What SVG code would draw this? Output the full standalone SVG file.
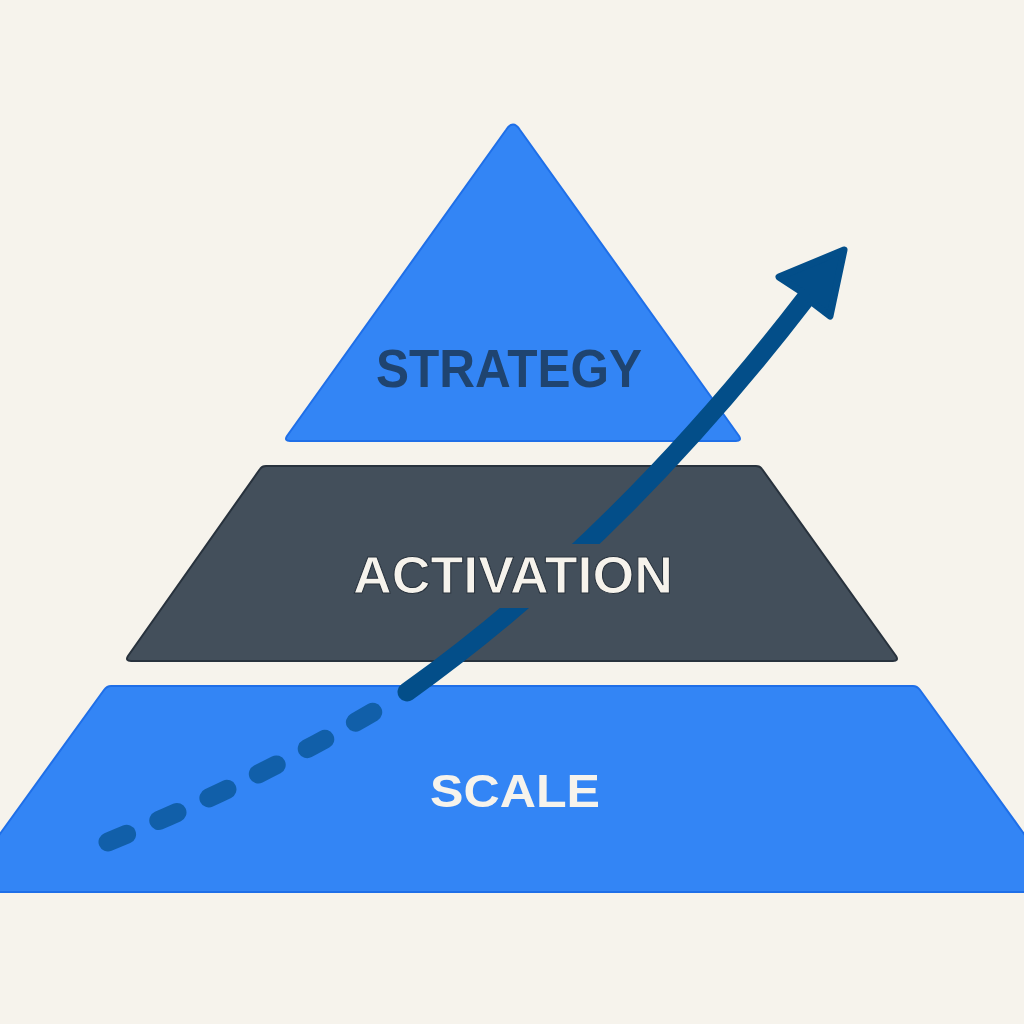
<svg xmlns="http://www.w3.org/2000/svg" width="1024" height="1024" viewBox="0 0 1024 1024">
  <style>
    .blue { fill: #3385f5; stroke: #1f6fe8; stroke-width: 2; stroke-linejoin: round; }
    .dark { fill: #434f5b; stroke: #28323d; stroke-width: 2; stroke-linejoin: round; }
    .lbl { font-family: "Liberation Sans", Arial, sans-serif; font-weight: bold; text-anchor: middle; }
    .arrow { fill: none; stroke: #034e89; stroke-width: 19; stroke-linecap: round; }
  </style>
  <rect x="0" y="0" width="1024" height="1024" fill="#f6f3ec"/>

  <g id="scale">
    <path class="blue" d="M111,686 L913,686 Q917,686 920,690 L1040,856 L1040,892 L-16,892 L-16,856 L104,690 Q107,686 111,686 Z"/>
  </g>

  <g id="activation">
    <path class="dark" d="M266,466 L756,466 Q760,466 762,469 L896,656 Q899,661 893,661 L131,661 Q125,661 128,656 L260,469 Q262,466 266,466 Z"/>
  </g>

  <g id="strategy">
    <path class="blue" d="M506,130 Q513,119 520,130 L739,436 Q742,441 736,441 L290,441 Q284,441 287,436 Z"/>
    <text class="lbl" x="509" y="387" font-size="54" fill="#1f4470" textLength="266" lengthAdjust="spacingAndGlyphs">STRATEGY</text>
  </g>

  <g id="connectors">
    <path class="arrow" d="M108,842 Q260,780 395,699" stroke-dasharray="20 35" opacity="0.7"/>
    <path class="arrow" d="M407,692 Q620,540 806,298"/>
    <polygon points="844,250 779,277 802,292 813,303 830,316" fill="#034e89" stroke="#034e89" stroke-width="7" stroke-linejoin="round"/>
  </g>

  <g id="labels">
    <rect x="340" y="544" width="345" height="64" fill="#434f5b"/>
    <text class="lbl" x="513" y="593" font-size="52" fill="#f6f3ec" stroke="#28323d" stroke-width="1" textLength="320" lengthAdjust="spacingAndGlyphs">ACTIVATION</text>
    <text class="lbl" x="515" y="807" font-size="47" fill="#f6f3ec" textLength="170" lengthAdjust="spacingAndGlyphs">SCALE</text>
  </g>
</svg>
